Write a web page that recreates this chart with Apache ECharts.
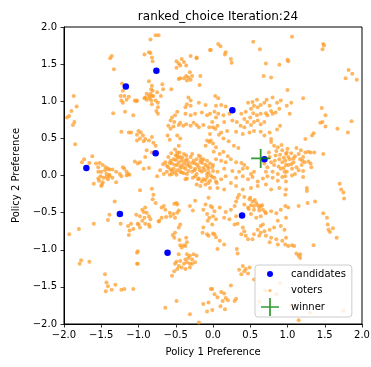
<!DOCTYPE html>
<html>
<head>
<meta charset="utf-8">
<script src="https://cdn.jsdelivr.net/npm/echarts@6/dist/echarts.min.js"></script>
<style>
  html, body { margin: 0; padding: 0; background: #ffffff; }
  #chart { width: 371px; height: 367px; }
</style>
</head>
<body>
<div id="chart"></div>
<script>
// Policy space limits and tick values shared by both axes
const tickValues = [-2.0, -1.5, -1.0, -0.5, 0.0, 0.5, 1.0, 1.5, 2.0];

// Candidate positions in the two-policy space
const candX = [-1.17, -0.76, 0.26, -0.77, -1.70, 0.69, -1.25, 0.39, -0.61];
const candY = [1.20, 1.41, 0.88, 0.30, 0.10, 0.22, -0.52, -0.54, -1.04];

// Winning position after the ranked-choice round
const winner = [0.64, 0.23];

// Voter ideal points [policy 1, policy 2]
const voters = [
  [-1.22,1.24],[-1.21,1.14],[-1.24,1.07],[-1.19,1.07],[-1.16,1.02],[-1.23,1.01],[-1.21,0.98],[-1.13,1.06],[-1.05,1.01],[-1.03,1.00],
  [-1.07,0.81],[-1.18,0.86],[-1.34,0.84],[-1.23,0.59],[-1.13,0.58],[-1.10,0.58],[-1.02,0.55],[-1.05,0.19],[-1.01,0.16],[-1.87,1.07],
  [-1.83,0.93],[-1.90,0.87],[-1.93,0.80],[-1.96,0.78],[-1.86,0.72],[-1.88,0.68],[-1.85,0.42],[-1.62,0.26],[-1.73,0.22],[-1.76,0.18],
  [-1.66,0.17],[-1.57,0.16],[-1.52,0.17],[-1.48,0.14],[-1.54,0.11],[-1.44,0.11],[-1.41,0.09],[-1.45,0.07],[-1.39,0.08],[-1.35,0.08],
  [-1.21,0.11],[-1.19,0.09],[-1.16,0.05],[-1.25,0.02],[-1.14,0.02],[-1.30,0.05],[-1.50,0.05],[-1.43,0.02],[-1.39,0.01],[-1.54,0.05],
  [-1.36,1.61],[-1.38,1.58],[-1.33,1.43],
  [-0.77,1.89],[-0.73,1.89],[-0.84,1.83],[-0.92,1.63],[-0.86,1.66],[-0.84,1.65],[-0.82,1.59],[-0.81,1.54],[-0.86,1.27],[-0.82,1.21],
  [-0.83,1.16],[-0.81,1.14],[-0.84,1.10],[-0.86,1.07],[-0.89,1.10],[-0.91,1.05],[-0.92,1.04],[-0.85,1.04],[-0.82,1.07],[-0.80,1.07],
  [-0.89,1.02],[-0.83,1.01],[-0.77,1.01],[-0.82,0.96],[-0.75,1.12],[-0.74,0.98],[-0.68,1.23],[-0.67,1.16],[-0.70,1.07],[-0.56,1.16],
  [-0.74,0.92],[-0.76,0.87],[-0.74,0.83],[-1.02,1.01],
  [-0.49,1.54],[-0.46,1.51],[-0.42,1.57],[-0.39,1.53],[-0.44,1.48],[-0.49,1.45],[-0.36,1.48],[-0.30,1.61],[-0.22,1.58],[-0.31,1.39],
  [-0.36,1.34],[-0.33,1.32],[-0.44,1.31],[-0.46,1.30],[-0.39,1.31],[-0.28,1.34],[-0.35,1.28],[-0.30,1.29],[-0.17,1.34],[-0.18,1.22],
  [-0.04,1.69],[-0.22,1.59],
  [-0.33,1.05],[-0.30,1.01],[-0.35,0.96],[-0.37,0.92],[-0.30,0.94],[-0.19,0.98],[-0.10,0.95],[-0.15,0.85],[-0.24,0.83],[-0.30,0.81],
  [-0.37,0.83],[-0.48,0.86],[-0.51,0.81],[-0.55,0.78],[-0.57,0.74],[-0.52,0.72],[-0.46,0.68],[-0.40,0.67],[-0.44,0.71],[-0.36,0.69],
  [-0.30,0.67],[-0.26,0.71],[-0.22,0.68],[-0.19,0.65],[-0.13,0.68],[-0.08,0.81],[-0.04,0.83],[-0.05,0.65],[-0.01,0.72],[-0.53,0.66],
  [-0.60,0.67],[-0.57,0.63],[-0.48,0.54],[-0.61,0.54],[-0.58,0.48],[-0.44,0.50],[-0.46,0.40],[-0.51,0.35],[-0.48,0.31],[-0.08,0.47],
  [-0.05,0.45],[-0.10,0.40],[-0.04,0.56],
  [-1.00,0.60],[-0.97,0.58],[-0.94,0.54],[-0.98,0.50],[-0.91,0.49],[-0.93,0.46],[-0.86,0.47],[-0.82,0.52],[-0.80,0.44],[-0.77,0.40],
  [-1.02,0.47],[-0.89,0.34],[-0.82,0.31],[-0.91,0.25],[-0.98,0.18],[-0.93,0.09],[-0.86,0.10],
  [-0.60,0.25],[-0.57,0.20],[-0.64,0.18],[-0.53,0.22],[-0.48,0.27],[-0.44,0.25],[-0.55,0.16],[-0.51,0.14],[-0.46,0.18],[-0.42,0.20],
  [-0.39,0.16],[-0.35,0.22],[-0.30,0.25],[-0.33,0.18],[-0.26,0.20],[-0.22,0.22],[-0.17,0.18],[-0.13,0.22],[-0.08,0.20],[-0.04,0.16],
  [-0.60,0.11],[-0.53,0.09],[-0.48,0.07],[-0.44,0.10],[-0.37,0.09],[-0.30,0.11],[-0.24,0.09],[-0.19,0.11],[-0.13,0.10],[-0.06,0.09],
  [-0.01,0.11],[-0.62,0.05],[-0.55,0.02],[-0.49,0.01],[-0.42,0.04],[-0.35,0.02],[-0.28,0.05],[-0.22,0.02],[-0.15,0.05],[-0.08,0.02],
  [-0.71,0.07],[-0.66,0.02],[-0.39,0.29],[-0.28,0.29],[-0.19,0.27],[-0.48,0.14],[-0.44,0.05],[-0.57,0.08],[-0.35,0.14],[-0.24,0.16],
  [-0.10,0.14],[-0.17,0.25],
  [-0.58,0.17],[-0.50,0.21],[-0.47,0.24],[-0.43,0.13],[-0.40,0.11],[-0.37,0.20],[-0.32,0.13],[-0.28,0.17],[-0.25,0.07],[-0.21,0.14],
  [-0.18,0.07],[-0.14,0.17],[-0.11,0.07],[-0.06,0.04],[-0.03,0.00],[0.02,-0.03],[-0.45,0.31],[-0.50,0.27],[-0.56,0.30],[-0.62,0.13],
  [-0.67,0.15],[-0.55,0.06],[-0.51,0.04],[-0.39,0.03],[-0.33,0.06],[-0.27,-0.03],[-0.20,-0.05],[-0.10,-0.06],[0.05,-0.10],[0.00,0.06],
  [-0.07,0.12],[-0.16,0.21],[-0.36,0.27],[-0.41,0.24],
  [0.07,1.77],[0.10,1.74],[-0.03,1.69],[0.17,1.66],[0.16,1.63],[0.24,1.57],[0.25,1.52],[0.54,1.80],[0.63,1.70],[0.71,1.51],
  [0.89,1.49],[0.68,1.34],[0.78,1.32],
  [0.03,1.07],[0.07,1.04],[0.04,0.94],[0.11,0.95],[0.17,0.93],[0.02,0.86],[0.07,0.83],[0.04,0.78],[0.14,0.81],[0.22,0.83],
  [0.15,0.72],[0.06,0.67],[0.00,0.65],[0.03,0.63],[0.11,0.58],[0.19,0.60],[0.26,0.74],[0.32,0.72],[0.37,0.67],[0.31,0.59],
  [0.40,0.56],[0.42,0.76],[0.38,0.83],[0.44,0.86],[0.51,0.90],[0.47,0.98],[0.53,0.99],[0.59,1.02],[0.55,0.94],[0.60,0.92],
  [0.64,0.95],[0.69,0.98],[0.72,1.02],[0.76,0.94],[0.78,0.87],[0.71,0.84],[0.64,0.83],[0.59,0.81],[0.54,0.84],[0.50,0.78],
  [0.46,0.72],[0.51,0.68],[0.55,0.72],[0.60,0.74],[0.64,0.69],[0.69,0.72],[0.73,0.81],[0.80,0.83],[0.84,0.85],[0.89,0.90],
  [0.86,0.98],[0.80,1.05],[0.91,1.01],[0.42,0.65],[0.49,0.58],[0.55,0.60],[0.64,0.59],[0.69,0.54],[0.76,0.58],[0.78,0.49],
  [0.86,0.62],[0.90,0.67],
  [-0.03,0.47],[0.00,0.43],[0.04,0.38],[0.01,0.32],[0.09,0.29],[0.14,0.32],[0.20,0.26],[0.04,0.22],[0.11,0.20],[0.17,0.18],
  [0.24,0.22],[0.31,0.18],[0.38,0.17],[0.42,0.14],[0.46,0.10],[0.40,0.09],[0.35,0.05],[0.26,0.06],[0.15,0.09],[0.06,0.05],
  [0.00,0.14],[0.51,0.02],[0.55,0.05],[0.78,0.45],[0.82,0.40],[0.87,0.38],[0.93,0.34],[0.98,0.29],[0.84,0.27],[0.89,0.22],
  [0.93,0.18],[0.98,0.14],[0.91,0.09],[0.82,0.14],[0.78,0.18],[0.73,0.11],[0.71,0.05],[0.80,0.05],[0.87,0.02],[0.96,0.05],
  [0.69,0.16],[0.76,0.25],
  [0.08,0.55],[0.14,0.50],[0.21,0.46],[0.28,0.40],[0.34,0.37],[0.75,0.31],[0.85,0.33],[0.90,0.28],[0.95,0.24],[1.00,0.36],
  [1.05,0.30],[1.10,0.26],[0.88,0.12],[0.95,0.10],[1.05,0.15],[1.08,0.23],[0.83,0.20],[0.92,0.41],[1.12,0.37],[1.20,0.20],
  [1.06,1.87],[1.48,1.77],[1.49,1.75],[1.47,1.70],[1.01,1.54],[1.00,1.56],[1.82,1.42],[1.87,1.37],[1.78,1.31],[1.93,1.29],
  [1.00,1.15],[1.21,1.04],[0.99,0.94],[1.05,0.98],[1.03,0.83],[1.46,0.91],[1.51,0.81],[1.44,0.71],[1.47,0.72],[1.51,0.66],
  [1.67,0.63],[1.81,0.58],[1.86,0.73],[1.35,0.57],[1.33,0.54],[1.24,0.49],[1.48,0.29],
  [0.99,0.31],[1.01,0.25],[1.03,0.22],[0.97,0.20],[1.08,0.18],[1.15,0.29],[1.18,0.34],[1.21,0.25],[1.24,0.31],[1.28,0.32],
  [1.31,0.31],[1.36,0.31],[1.17,0.22],[1.23,0.18],[1.28,0.19],[1.31,0.16],[1.19,0.14],[1.12,0.11],[1.06,0.09],[1.15,0.07],
  [1.21,0.06],[1.32,0.11],[1.01,0.14],[0.99,0.05],[1.10,0.02],
  [-1.54,-0.04],[-1.51,-0.01],[-1.47,-0.03],[-1.43,-0.02],[-1.39,-0.01],[-1.35,-0.03],[-1.41,-0.05],[-1.48,-0.09],[-1.53,-0.07],[-1.60,-0.11],
  [-1.50,-0.14],[-1.30,-0.09],[-1.23,-0.01],[-1.16,0.00],[-1.12,0.01],[-1.49,-0.12],[-1.32,-0.35],[-1.39,-0.53],[-1.41,-0.60],[-1.60,-0.65],
  [-1.80,-0.72],[-1.93,-0.79],[-1.24,-0.65],[-1.14,-0.68],[-1.10,-0.65],[-1.07,-0.72],[-1.12,-0.74],[-1.13,-0.80],[-1.03,-0.53],[-1.01,-0.65],
  [-1.77,-1.14],[-1.79,-1.19],[-1.66,-1.16],[-1.01,-1.02],[-1.01,-1.19],[-1.45,-1.33],[-1.43,-1.44],[-1.41,-1.49],[-1.44,-1.56],[-1.36,-1.54],
  [-1.31,-1.47],[-1.23,-1.54],[-1.19,-1.53],[-1.07,-1.53],
  [-0.75,-0.01],[-0.58,0.01],[-0.37,-0.05],[-0.35,-0.04],[-0.24,-0.01],[-0.19,-0.04],[-0.15,-0.08],[-0.13,-0.05],[-0.08,-0.02],[-0.04,-0.07],
  [-0.06,-0.10],[-0.22,-0.12],[-0.01,-0.02],[-0.10,-0.12],[-0.04,-0.17],[-0.17,-0.14],
  [-0.98,-0.20],[-0.82,-0.18],[-0.80,-0.26],[-0.81,-0.32],[-0.91,-0.43],[-0.95,-0.46],[-0.93,-0.49],[-0.89,-0.50],[-0.98,-0.55],[-0.92,-0.57],
  [-0.86,-0.55],[-0.84,-0.59],[-0.95,-0.61],[-0.91,-0.65],[-0.86,-0.66],[-1.00,-0.66],[-0.98,-0.70],[-0.85,-0.69],[-0.77,-0.37],[-0.66,-0.41],
  [-0.69,-0.43],[-0.64,-0.46],[-0.58,-0.50],[-0.53,-0.52],[-0.48,-0.50],[-0.51,-0.57],[-0.46,-0.47],[-0.31,-0.41],[-0.27,-0.47],[-0.24,-0.34],
  [-0.49,-0.37],[-0.48,-0.39],[-0.52,-0.38],[-0.63,-0.56],[-0.69,-0.57],[-0.72,-0.61],[-0.73,-0.62],[-0.57,-0.55],[-0.44,-0.66],[-0.46,-0.70],
  [-0.51,-0.77],[-0.54,-0.80],[-0.52,-0.84],[-0.45,-0.87],[-0.36,-0.84],[-0.35,-0.90],[-0.37,-0.95],[-0.06,-0.30],[-0.10,-0.39],[-0.13,-0.46],
  [-0.08,-0.52],[-0.01,-0.43],[-0.05,-0.57],[-0.07,-0.61],[-0.01,-0.66],[-0.13,-0.70],[-0.14,-0.77],[-0.06,-0.81],[-0.08,-0.79],[0.00,-0.78],
  [-0.44,-0.94],[-0.39,-0.94],[-0.42,-0.97],[-0.46,-1.06],[-0.35,-1.06],[-0.31,-1.08],[-0.26,-1.06],[-0.22,-1.08],[-0.33,-1.11],[-0.37,-1.13],
  [-0.28,-1.13],[-0.44,-1.15],[-0.49,-1.16],[-0.51,-1.19],[-0.46,-1.22],[-0.39,-1.19],[-0.35,-1.17],[-0.31,-1.19],[-0.31,-1.24],[-0.42,-1.24],
  [-0.48,-1.26],[-0.37,-1.26],[-0.24,-1.17],[-0.28,-1.19],[-0.52,-1.29],[-0.55,-1.35],
  [-1.02,-1.04],[-1.02,-1.19],[-0.01,-1.53],[-0.49,-1.69],[-0.64,-1.78],[-0.06,-1.71],[-0.13,-1.73],[-0.31,-1.87],[-0.19,-1.98],[-0.08,-1.83],
  [-0.01,-1.81],[0.10,-1.76],
  [0.04,-0.08],[0.11,-0.05],[0.17,-0.01],[0.24,-0.10],[0.31,-0.03],[0.40,-0.01],[0.47,-0.05],[0.53,-0.02],[0.60,-0.08],[0.67,-0.04],
  [0.73,-0.01],[0.80,-0.03],[0.87,-0.07],[0.93,-0.02],[0.98,-0.08],[0.06,-0.17],[0.15,-0.19],[0.31,-0.14],[0.40,-0.19],[0.51,-0.17],
  [0.60,-0.14],[0.71,-0.12],[0.78,-0.19],[0.89,-0.17],[0.98,-0.19],[0.35,-0.26],[0.42,-0.29],[0.49,-0.32],[0.53,-0.35],[0.58,-0.37],
  [0.60,-0.40],[0.64,-0.41],[0.55,-0.41],[0.51,-0.40],[0.62,-0.43],[0.67,-0.46],[0.47,-0.43],[0.42,-0.39],[0.33,-0.30],[0.31,-0.35],
  [0.29,-0.41],[0.24,-0.46],[0.17,-0.49],[0.09,-0.43],[0.02,-0.48],[-0.03,-0.41],[0.00,-0.55],[0.04,-0.59],[0.15,-0.57],[0.22,-0.59],
  [0.29,-0.66],[0.33,-0.65],[0.40,-0.70],[0.42,-0.75],[0.38,-0.79],[0.44,-0.81],[0.47,-0.86],[0.31,-0.55],[0.51,-0.52],[0.58,-0.57],
  [0.64,-0.55],[0.71,-0.51],[0.78,-0.48],[0.85,-0.51],[0.91,-0.46],[0.97,-0.41],[0.87,-0.61],[0.91,-0.68],[0.96,-0.73],[0.82,-0.70],
  [0.76,-0.73],[0.69,-0.75],[0.64,-0.77],[0.60,-0.73],[0.64,-0.68],[0.67,-0.66],[0.71,-0.81],[0.78,-0.84],[0.85,-0.86],[0.93,-0.88],
  [0.98,-0.84],[0.87,-0.93],[0.76,-0.90],[0.62,-0.81],[0.55,-0.79],[0.53,-0.86],[0.98,-0.57],[0.02,-0.79],[0.04,-0.83],[0.09,-0.88],
  [0.15,-0.93],[0.06,-0.99],[0.32,-0.99],[0.33,-1.05],[0.40,-1.22],[0.44,-1.26],[0.42,-1.29],[0.47,-1.32],[0.38,-1.33],[0.49,-1.24],
  [0.35,-1.27],[0.24,-1.48],[0.11,-1.57],[0.15,-1.59],[0.17,-1.65],[0.13,-1.69],[0.20,-1.68],[0.29,-1.69],[0.31,-1.66],[0.06,-1.64],
  [-0.03,-1.53],[0.02,-1.60],[0.16,-1.80],
  [0.50,-0.30],[0.56,-0.33],[0.66,-0.40],[0.62,-0.47],[0.70,-0.49],[0.55,-0.46],[0.48,-0.45],
  [0.97,-0.01],[1.06,0.00],[1.21,-0.02],[1.26,-0.17],[1.26,-0.21],[0.97,-0.26],[1.15,-0.41],[1.27,-0.37],[1.37,-0.35],[1.01,-0.43],
  [1.70,-0.11],[1.72,-0.19],[1.75,-0.23],[1.76,-0.31],[1.48,-0.51],[1.53,-0.57],[1.54,-0.66],[1.55,-0.73],[1.57,-0.76],[1.61,-0.71],
  [1.66,-0.84],[1.35,-0.94],[0.97,-0.93],[1.01,-0.95],[1.06,-0.94],[1.09,-0.95],[1.12,-1.05],[1.17,-1.06],[1.17,-1.11],[1.15,-1.08],
  [1.75,-1.82],[1.15,-1.95],
  [0.55,-1.40],[0.70,-1.55],[0.85,-1.60],[1.05,-1.75],[1.30,-1.85],[0.62,-1.70],[0.90,-1.45]
];

const FONT = 'DejaVu Sans';
const fmtTick = v => v.toFixed(1).replace('-', '\u2212');

// Legend icons: an invisible 24x18 frame keeps each marker at its own size
const iconCandidate = 'path://M0,0M24,18M9,9a3,3 0 1,0 6,0a3,3 0 1,0 -6,0z';
const iconVoter = 'path://M0,0M24,18M10.4,9a1.6,1.6 0 1,0 3.2,0a1.6,1.6 0 1,0 -3.2,0z';
const iconWinner = 'path://M0,0M24,18M11.15,0h1.7v18h-1.7zM3,8.15h18v1.7h-18z';
const plusSymbol = 'path://M8.15,0h1.7v18h-1.7zM0,8.15h18v1.7h-18z';

const chart = echarts.init(document.getElementById('chart'), null, { renderer: 'canvas' });

const axisCommon = {
  type: 'value',
  min: tickValues[0],
  max: tickValues[tickValues.length - 1],
  interval: tickValues[1] - tickValues[0],
  nameLocation: 'middle',
  nameTextStyle: { fontFamily: FONT, fontSize: 10, color: '#000' },
  axisLine: { show: true, onZero: false, lineStyle: { color: '#000', width: 1 } },
  axisTick: { show: true, inside: false, length: 3.5, lineStyle: { color: '#000', width: 0.8 } },
  axisLabel: { fontFamily: FONT, fontSize: 10, color: '#000', formatter: fmtTick },
  splitLine: { show: false }
};

chart.setOption({
  animation: false,
  backgroundColor: '#ffffff',
  title: {
    text: 'ranked_choice Iteration:24',
    left: 213,
    top: 6,
    textAlign: 'center',
    textStyle: { fontFamily: FONT, fontSize: 12, fontWeight: 'normal', color: '#000' }
  },
  grid: {
    left: 64, right: 9, top: 27, bottom: 43,
    outerBoundsMode: 'none',
    containLabel: false,
    show: true, borderColor: '#000', borderWidth: 1, backgroundColor: 'transparent'
  },
  xAxis: Object.assign({}, axisCommon, {
    name: 'Policy 1 Preference',
    nameGap: 23,
    axisLabel: Object.assign({}, axisCommon.axisLabel, { margin: 6 })
  }),
  yAxis: Object.assign({}, axisCommon, {
    name: 'Policy 2 Preference',
    nameGap: 34,
    nameRotate: 90,
    axisLabel: Object.assign({}, axisCommon.axisLabel, { margin: 7 })
  }),
  legend: {
    orient: 'vertical',
    left: 255,
    top: 265,
    padding: [0, 6, 1, 3],
    itemWidth: 24,
    itemHeight: 18,
    itemGap: -1.5,
    backgroundColor: 'rgba(255,255,255,0.8)',
    borderColor: '#cccccc',
    borderWidth: 1,
    borderRadius: 3,
    textStyle: { fontFamily: FONT, fontSize: 10, color: '#000', padding: [0, 0, 0, 4] },
    data: [
      { name: 'candidates', icon: iconCandidate },
      { name: 'voters', icon: iconVoter },
      { name: 'winner', icon: iconWinner }
    ]
  },
  series: [
    {
      name: 'voters',
      type: 'scatter',
      z: 2,
      symbol: 'circle',
      symbolSize: 4,
      itemStyle: { color: '#ff9a22', opacity: 0.72 },
      data: voters
    },
    {
      name: 'candidates',
      type: 'scatter',
      z: 3,
      symbol: 'circle',
      symbolSize: 6.5,
      itemStyle: { color: '#0000ff', opacity: 1 },
      data: candX.map((x, i) => [x, candY[i]])
    },
    {
      name: 'winner',
      type: 'scatter',
      z: 4,
      symbol: plusSymbol,
      symbolSize: 19,
      itemStyle: { color: '#008000' },
      data: [winner]
    }
  ]
});
</script>
</body>
</html>
